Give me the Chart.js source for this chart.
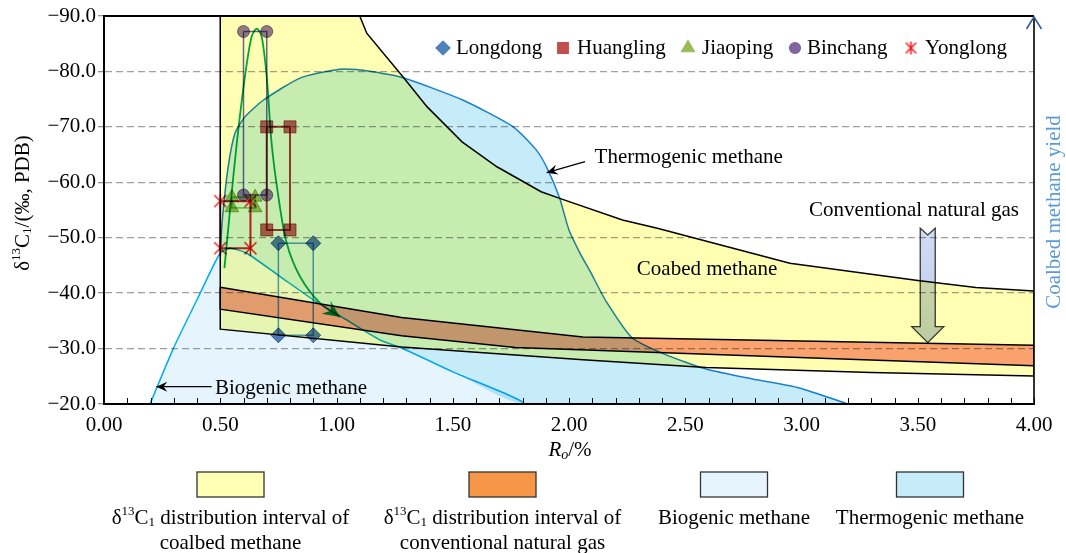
<!DOCTYPE html>
<html><head><meta charset="utf-8">
<script src="https://cdn.jsdelivr.net/npm/chart.js@4.4.1/dist/chart.umd.min.js"></script>
<style>html,body{margin:0;padding:0;background:#fff;overflow:hidden}canvas{display:block}</style>
</head><body>
<canvas id="c" width="1066" height="553"></canvas>
<script>
const FONT = '"Liberation Serif", "Times New Roman", serif';

// ---- tick labels ----
const yTickValues = [-90, -80, -70, -60, -50, -40, -30, -20];
const yTickLabels = ['−90.0', '−80.0', '−70.0', '−60.0', '−50.0', '−40.0', '−30.0', '−20.0'];
const xTickValues = [0, 0.5, 1, 1.5, 2, 2.5, 3, 3.5, 4];
const xTickLabels = ['0.00', '0.50', '1.00', '1.50', '2.00', '2.50', '3.00', '3.50', '4.00'];

// ---- sample series (Ro %, d13C1 permil) ----
const seriesNames = ['Longdong', 'Huangling', 'Jiaoping', 'Binchang', 'Yonglong'];
const longdongRo = [0.75, 0.90, 0.90, 0.75];
const longdongD13C = [-49.0, -49.0, -32.4, -32.4];
const huanglingRo = [0.70, 0.80, 0.80, 0.70];
const huanglingD13C = [-70.0, -70.0, -51.4, -51.4];
const jiaopingRo = [0.55, 0.65, 0.65, 0.55];
const jiaopingD13C = [-57.3, -57.3, -55.4, -55.4];
const binchangRo = [0.60, 0.70, 0.70, 0.60];
const binchangD13C = [-87.2, -87.2, -57.7, -57.7];
const yonglongRo = [0.50, 0.63, 0.63, 0.50];
const yonglongD13C = [-56.6, -56.6, -48.1, -48.1];

// ---- regions ----
const cbmRo =   [0.50, 1.10, 1.13, 1.29, 1.39, 1.54, 1.69, 1.88, 1.96, 2.23, 2.38, 2.95, 3.50, 3.75, 4.00, 4.00, 3.30, 2.59, 2.06, 1.28, 0.50];
const cbmD13C = [-90.0, -90.0, -86.9, -78.8, -73.6, -67.3, -62.8, -58.3, -57.1, -53.2, -51.7, -45.4, -42.3, -41.0, -40.4, -25.05, -25.7, -26.6, -28.0, -30.3, -33.5];

const convRo =   [0.50, 1.28, 2.06, 4.00, 4.00, 1.77, 1.28, 0.50];
const convD13C = [-41.05, -35.6, -32.1, -30.6, -26.9, -30.2, -32.3, -37.1];

const bioRo =   [0.198, 0.298, 0.40, 0.499, 0.542, 0.614, 0.757, 0.90, 1.015, 1.19, 1.28, 1.50, 1.80];
const bioD13C = [-20.0, -30.0, -38.8, -47.2, -48.1, -47.2, -43.0, -38.8, -35.9, -31.5, -30.1, -25.8, -20.0];

const thermoTopRo =   [0.50, 0.51, 0.534, 0.563, 0.606, 0.685, 0.843, 1.015, 1.15, 1.29, 1.545, 1.76, 1.86, 1.91, 1.96, 2.00, 2.05, 2.09, 2.16, 2.27, 2.41, 2.59, 2.79, 2.99, 3.20];
const thermoTopD13C = [-47.5, -53.8, -62.8, -68.8, -71.8, -74.8, -78.8, -80.4, -80.0, -78.8, -74.8, -70.0, -65.8, -62.2, -57.1, -51.4, -47.0, -44.0, -38.5, -32.0, -29.0, -26.3, -24.5, -22.9, -20.0];

const trendRo =   [0.518, 0.542, 0.571, 0.606, 0.635, 0.657, 0.678, 0.700, 0.721, 0.750, 0.786, 0.843, 0.929, 1.015];
const trendD13C = [-44.5, -55.0, -67.0, -79.0, -86.3, -87.7, -86.3, -79.0, -67.0, -57.4, -49.0, -43.0, -38.2, -35.7];

// annotations
const noteTexts = ['Thermogenic methane', 'Biogenic methane', 'Coabed methane', 'Conventional natural gas'];
const regionLegendLabels = [['distribution interval of', 'coalbed methane'], ['distribution interval of', 'conventional natural gas'], ['Biogenic methane'], ['Thermogenic methane']];

const pts = (xs, ys) => xs.map((x, i) => ({x, y: ys[i]}));
const closed = p => p.concat([p[0]]);

// asterisk marker image
function starImage(size, color) {
  const c = document.createElement('canvas');
  c.width = size; c.height = size;
  const g = c.getContext('2d');
  const m = size / 2, r = size / 2 - 1;
  g.strokeStyle = color; g.lineWidth = 1.4;
  g.beginPath();
  g.moveTo(m, m - r); g.lineTo(m, m + r);
  const d = r * 0.8;
  g.moveTo(m - d, m - d); g.lineTo(m + d, m + d);
  g.moveTo(m + d, m - d); g.lineTo(m - d, m + d);
  g.stroke();
  return c;
}
const starPlot = starImage(17, '#ff1010');
const starLegend = starImage(15, '#ff1010');

const rectLoopRadius = r => (ctx) => ctx.dataIndex === 4 ? 0 : r;

function seriesDataset(label, ro, d, style, radius, fill, line, lw, order) {
  return {
    label, data: closed(pts(ro, d)), order,
    borderColor: line, borderWidth: lw, tension: 0, fill: false,
    pointStyle: style, pointRadius: rectLoopRadius(radius), pointHoverRadius: rectLoopRadius(radius),
    pointBackgroundColor: fill, pointBorderColor: fill, pointBorderWidth: 1
  };
}

const datasets = [
  {label: 'cbm', data: closed(pts(cbmRo, cbmD13C)), fill: 'shape', backgroundColor: '#ffffb3', borderColor: '#000', borderWidth: 1.5, pointRadius: 0, tension: 0, order: 20},
  {label: 'conv', data: closed(pts(convRo, convD13C)), fill: 'shape', backgroundColor: 'rgb(250,162,156)', borderColor: '#000', borderWidth: 1.5, pointRadius: 0, tension: 0, order: 19},
  {label: 'bio', data: closed(pts(bioRo, bioD13C)), fill: 'shape', backgroundColor: '#e6f5fd', borderColor: '#00b0f0', borderWidth: 1.5, pointRadius: 0, tension: 0.2, order: 18},
  {label: 'thermoFill', data: closed(pts(thermoTopRo, thermoTopD13C).concat(pts(bioRo.slice(4).reverse(), bioD13C.slice(4).reverse()))), fill: 'shape', backgroundColor: '#c6ecfa', borderWidth: 0, pointRadius: 0, tension: 0.2, order: 17},
  {label: 'thermoLine', data: pts(thermoTopRo, thermoTopD13C), fill: false, borderColor: '#1e84d4', borderWidth: 1.5, pointRadius: 0, tension: 0.2, order: 16},
  {label: 'trend', data: pts(trendRo, trendD13C), fill: false, borderColor: '#00a850', borderWidth: 1.8, pointRadius: 0, tension: 0.3, order: 15},
  seriesDataset(seriesNames[0], longdongRo, longdongD13C, 'rectRot', 7.5, 'rgba(62,108,178,0.88)', '#5b9bd5', 1.5, 5),
  seriesDataset(seriesNames[1], huanglingRo, huanglingD13C, 'rect', 8.5, 'rgba(192,80,77,0.88)', '#b2403d', 2, 4),
  seriesDataset(seriesNames[2], jiaopingRo, jiaopingD13C, 'triangle', 8, 'rgba(155,187,89,0.92)', '#8fd06a', 1.8, 3),
  seriesDataset(seriesNames[3], binchangRo, binchangD13C, 'circle', 6, 'rgba(128,100,162,0.85)', '#6c62c4', 1.5, 2),
  seriesDataset(seriesNames[4], yonglongRo, yonglongD13C, starPlot, 8, '#ff1010', '#ee2020', 2, 1)
];

function fontStr(p) { return (p.italic ? 'italic ' : '') + (p.size || 21) + 'px ' + FONT; }
function drawRich(ctx, parts, x, y, align) {
  let w = 0;
  for (const p of parts) { ctx.font = fontStr(p); w += ctx.measureText(p.t).width; }
  let cx = align === 'center' ? x - w / 2 : (align === 'right' ? x - w : x);
  ctx.textAlign = 'left'; ctx.textBaseline = 'middle';
  for (const p of parts) { ctx.font = fontStr(p); ctx.fillText(p.t, cx, y + (p.dy || 0)); cx += ctx.measureText(p.t).width; }
}
const d13C = [{t: 'δ'}, {t: '13', size: 13, dy: -6}, {t: 'C'}, {t: '1', size: 13, dy: 5}];

function arrowHead(ctx, x1, y1, x2, y2, len, hw, color) {
  const a = Math.atan2(y2 - y1, x2 - x1);
  const c = Math.cos(a), s = Math.sin(a);
  const bx = x2 - c * len, by = y2 - s * len;
  const ix = x2 - c * len * 0.65, iy = y2 - s * len * 0.65;
  ctx.fillStyle = color;
  ctx.beginPath();
  ctx.moveTo(x2, y2);
  ctx.lineTo(bx - s * hw, by + c * hw);
  ctx.lineTo(ix, iy);
  ctx.lineTo(bx + s * hw, by - c * hw);
  ctx.closePath();
  ctx.fill();
}

const blend = {
  id: 'blend',
  beforeDatasetsDraw(chart) { chart.ctx.save(); chart.ctx.globalCompositeOperation = 'multiply'; },
  afterDatasetsDraw(chart) {
    const ctx = chart.ctx, xs = chart.scales.x, ys = chart.scales.y;
    // block arrow (conventional natural gas)
    const cx = xs.getPixelForValue(3.543);
    const yTop = ys.getPixelForValue(-51.7), yNotch = ys.getPixelForValue(-50.5);
    const yHead = ys.getPixelForValue(-33.95), yTip = ys.getPixelForValue(-31.06);
    const sw = 7.5, hw = 16;
    const g = ctx.createLinearGradient(0, yTop, 0, yTip);
    g.addColorStop(0, '#d2dcf4'); g.addColorStop(1, '#bccbe6');
    ctx.beginPath();
    ctx.moveTo(cx - sw, yTop); ctx.lineTo(cx, yNotch); ctx.lineTo(cx + sw, yTop);
    ctx.lineTo(cx + sw, yHead); ctx.lineTo(cx + hw, yHead); ctx.lineTo(cx, yTip);
    ctx.lineTo(cx - hw, yHead); ctx.lineTo(cx - sw, yHead); ctx.closePath();
    ctx.fillStyle = g; ctx.fill();
    ctx.strokeStyle = '#3a3a3a'; ctx.lineWidth = 1.3; ctx.stroke();
    // green trend arrow head
    const n = trendRo.length;
    arrowHead(ctx, xs.getPixelForValue(trendRo[n - 2]), ys.getPixelForValue(trendD13C[n - 2]),
      xs.getPixelForValue(trendRo[n - 1]), ys.getPixelForValue(trendD13C[n - 1]), 17, 8, '#00a850');
    ctx.restore();
  }
};

const decor = {
  id: 'decor',
  afterDraw(chart) {
    const ctx = chart.ctx, xs = chart.scales.x, ys = chart.scales.y, a = chart.chartArea;
    ctx.save();
    // top border
    ctx.strokeStyle = '#000'; ctx.lineWidth = 2;
    ctx.beginPath(); ctx.moveTo(a.left - 1, a.top); ctx.lineTo(a.right, a.top); ctx.stroke();
    // right axis with arrow
    ctx.lineWidth = 1.6;
    ctx.beginPath(); ctx.moveTo(a.right, a.bottom); ctx.lineTo(a.right, a.top + 1); ctx.stroke();
    ctx.strokeStyle = '#2f5597'; ctx.lineWidth = 1.5;
    ctx.beginPath(); ctx.moveTo(a.right - 7.5, a.top + 13); ctx.lineTo(a.right, a.top + 1); ctx.lineTo(a.right + 7.5, a.top + 13); ctx.stroke();
    // inward x ticks
    ctx.strokeStyle = '#000'; ctx.lineWidth = 1;
    for (const t of xs.ticks) {
      const px = Math.round(xs.getPixelForValue(t.value)) + 0.5;
      ctx.beginPath(); ctx.moveTo(px, a.bottom); ctx.lineTo(px, a.bottom - 6); ctx.stroke();
    }
    ctx.fillStyle = '#000';
    // axis titles
    drawRich(ctx, [{t: 'R', italic: true}, {t: 'o', size: 14, dy: 5, italic: true}, {t: '/%'}], 570, 450, 'center');
    ctx.save(); ctx.translate(23, 203); ctx.rotate(-Math.PI / 2);
    drawRich(ctx, d13C.concat([{t: '/(‰, PDB)'}]), 0, 0, 'center');
    ctx.restore();
    ctx.save(); ctx.translate(1054, 212); ctx.rotate(-Math.PI / 2);
    ctx.fillStyle = '#5b9bd5';
    drawRich(ctx, [{t: 'Coalbed methane yield'}], 0, 0, 'center');
    ctx.restore();
    // annotations
    ctx.fillStyle = '#000';
    drawRich(ctx, [{t: noteTexts[0]}], xs.getPixelForValue(2.11), ys.getPixelForValue(-64.5), 'left');
    drawRich(ctx, [{t: noteTexts[1]}], xs.getPixelForValue(0.477), ys.getPixelForValue(-22.85), 'left');
    drawRich(ctx, [{t: noteTexts[2]}], xs.getPixelForValue(2.594), ys.getPixelForValue(-44.2), 'center');
    drawRich(ctx, [{t: noteTexts[3]}], xs.getPixelForValue(3.484), ys.getPixelForValue(-55.0), 'center');
    const arrows = [[2.069, -63.72, 1.904, -61.73], [0.463, -23.12, 0.225, -23.12]];
    for (const [x1, y1, x2, y2] of arrows) {
      const p1x = xs.getPixelForValue(x1), p1y = ys.getPixelForValue(y1);
      const p2x = xs.getPixelForValue(x2), p2y = ys.getPixelForValue(y2);
      ctx.strokeStyle = '#000'; ctx.lineWidth = 1.2;
      ctx.beginPath(); ctx.moveTo(p1x, p1y); ctx.lineTo(p2x, p2y); ctx.stroke();
      arrowHead(ctx, p1x, p1y, p2x, p2y, 11, 5, '#000');
    }
    // top legend
    const H = Chart.helpers;
    const lgStyles = ['rectRot', 'rect', 'triangle', 'circle', starLegend];
    const lgColors = ['#4f81bd', '#c0504d', '#9bbb59', '#8064a2', '#ff1010'];
    const lgRadius = [7, 7.5, 7.5, 5.5, 7];
    const lgMarkX = [443, 563, 688, 795, 911];
    const lgTextX = [456, 577, 702, 807, 925];
    for (let i = 0; i < seriesNames.length; i++) {
      ctx.fillStyle = lgColors[i]; ctx.strokeStyle = lgColors[i];
      H.drawPoint(ctx, {pointStyle: lgStyles[i], radius: lgRadius[i], rotation: 0, borderWidth: 1}, lgMarkX[i], 48);
      ctx.fillStyle = '#000';
      drawRich(ctx, [{t: seriesNames[i]}], lgTextX[i], 48, 'left');
    }
    // bottom legend
    const boxColors = ['#ffffb3', '#f79646', '#e6f5fd', '#c6ecfa'];
    const boxCX = [230.5, 502.5, 734, 930];
    for (let i = 0; i < 4; i++) {
      ctx.fillStyle = boxColors[i];
      ctx.fillRect(boxCX[i] - 33.5, 472, 67, 25);
      ctx.strokeStyle = '#333'; ctx.lineWidth = 1.3;
      ctx.strokeRect(boxCX[i] - 33.5, 472, 67, 25);
      ctx.fillStyle = '#000';
      const lines = regionLegendLabels[i];
      if (lines.length === 2) {
        drawRich(ctx, d13C.concat([{t: ' ' + lines[0]}]), boxCX[i], 518, 'center');
        drawRich(ctx, [{t: lines[1]}], boxCX[i], 543, 'center');
      } else {
        drawRich(ctx, [{t: lines[0]}], boxCX[i], 518, 'center');
      }
    }
    ctx.restore();
  }
};

Chart.defaults.font.family = FONT;
Chart.defaults.font.size = 21;
Chart.defaults.color = '#000';

new Chart(document.getElementById('c'), {
  type: 'line',
  data: {datasets},
  plugins: [blend, decor],
  options: {
    responsive: false, animation: false, events: [], devicePixelRatio: 1,
    layout: {padding: {left: 0, right: 32, top: 16, bottom: 0}},
    plugins: {legend: {display: false}, tooltip: {enabled: false}},
    scales: {
      x: {
        type: 'linear', min: 0, max: 4,
        afterFit: s => { s.height = 149; },
        grid: {display: true, drawOnChartArea: false, drawTicks: false},
        border: {display: true, color: '#000', width: 2},
        ticks: {stepSize: 0.1, autoSkip: false, maxRotation: 0, padding: 9,
          callback: v => { const i = xTickValues.findIndex(t => Math.abs(t - v) < 1e-6); return i >= 0 ? xTickLabels[i] : ''; }}
      },
      y: {
        type: 'linear', min: -90, max: -20, reverse: true,
        afterFit: s => { s.width = 104; },
        grid: {color: c => (c.tick && (c.tick.value === -90 || c.tick.value === -20)) ? 'rgba(0,0,0,0)' : '#a0a0a0',
               lineWidth: 1.3, tickBorderDash: [], tickColor: '#909090', tickLength: 6},
        border: {display: true, color: '#000', width: 2, dash: [7, 4]},
        ticks: {stepSize: 10, padding: 2,
          callback: v => { const i = yTickValues.indexOf(v); return i >= 0 ? yTickLabels[i] : ''; }}
      }
    }
  }
});
</script>
</body></html>
